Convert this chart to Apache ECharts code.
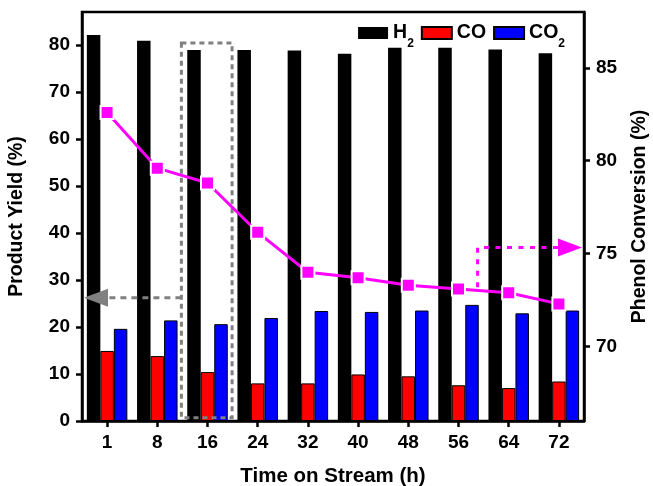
<!DOCTYPE html>
<html>
<head>
<meta charset="utf-8">
<script src="https://cdn.jsdelivr.net/npm/echarts@6/dist/echarts.min.js"></script>
<style>html,body{margin:0;padding:0;background:#fff}#c{width:653px;height:486px}</style>
</head>
<body>
<div id="c"></div>
<script>
const categories = ['1', '8', '16', '24', '32', '40', '48', '56', '64', '72'];
const h2Yield = [82.1, 80.9, 78.9, 78.9, 78.8, 78.1, 79.4, 79.4, 79.0, 78.2];
const coYield = [14.9, 13.8, 10.4, 8.0, 8.0, 9.9, 9.5, 7.6, 7.0, 8.4];
const co2Yield = [19.6, 21.4, 20.6, 21.9, 23.4, 23.2, 23.5, 24.7, 22.9, 23.5];
const phenolConversion = [82.6, 79.6, 78.8, 76.15, 74.0, 73.7, 73.3, 73.1, 72.9, 72.3];
const leftTicks = [0, 10, 20, 30, 40, 50, 60, 70, 80];
const rightTicks = [70, 75, 80, 85];

const FONT = 'Liberation Sans';
const chart = echarts.init(document.getElementById('c'), null, {renderer: 'canvas'});

const axisCommon = {
  axisLine: {show: true, lineStyle: {color: '#000', width: 2.5}},
  axisTick: {show: true, inside: false, length: 6, lineStyle: {color: '#000', width: 2.5}},
  splitLine: {show: false},
  nameTextStyle: {color: '#000', fontFamily: FONT, fontWeight: 'bold', fontSize: 19.5},
  axisLabel: {color: '#000', fontFamily: FONT, fontWeight: 'bold', fontSize: 19, margin: 12}
};

const legendRich = {
  b: {fontFamily: FONT, fontWeight: 'bold', fontSize: 19.5, color: '#000', lineHeight: 22},
  s: {fontFamily: FONT, fontWeight: 'bold', fontSize: 12, color: '#000', verticalAlign: 'bottom', lineHeight: 12, padding: [0, 0, -6, 0]}
};

chart.setOption({
  animation: false,
  backgroundColor: '#fff',
  grid: {left: 82, right: 69, top: 12, bottom: 65, show: true, borderColor: '#000', borderWidth: 2.5,
         backgroundColor: 'transparent', containLabel: false, outerBoundsMode: 'none'},
  legend: {
    right: 83, top: 18, itemWidth: 30, itemHeight: 12, itemGap: 7,
    icon: 'rect',
    data: ['H2', 'CO', 'CO2'],
    formatter: function (n) {
      if (n === 'H2') return '{b|H}{s|2}';
      if (n === 'CO2') return '{b|CO}{s|2}';
      return '{b|' + n + '}';
    },
    textStyle: {rich: legendRich}
  },
  xAxis: Object.assign({}, axisCommon, {
    type: 'category', data: categories, boundaryGap: true,
    name: 'Time on Stream (h)', nameLocation: 'middle', nameGap: 45,
    nameTextStyle: {color: '#000', fontFamily: FONT, fontWeight: 'bold', fontSize: 20.5},
    axisTick: {show: true, alignWithLabel: true, length: 6, lineStyle: {color: '#000', width: 2.5}}
  }),
  yAxis: [
    Object.assign({}, axisCommon, {
      type: 'value', min: 0, max: 87, position: 'left',
      name: 'Product Yield (%)', nameLocation: 'middle', nameGap: 55, nameRotate: 90,
      axisLabel: Object.assign({}, axisCommon.axisLabel, {customValues: leftTicks}),
      axisTick: Object.assign({}, axisCommon.axisTick, {customValues: leftTicks})
    }),
    Object.assign({}, axisCommon, {
      type: 'value', min: 66, max: 88, position: 'right',
      name: 'Phenol Conversion (%)', nameLocation: 'middle', nameGap: 46, nameRotate: 90,
      axisLabel: Object.assign({}, axisCommon.axisLabel, {customValues: rightTicks}),
      axisTick: Object.assign({}, axisCommon.axisTick, {customValues: rightTicks})
    })
  ],
  series: [
    {name: 'H2', type: 'bar', data: h2Yield, barWidth: 13.5, barGap: '0%', itemStyle: {color: '#000'}},
    {name: 'CO', type: 'bar', data: coYield, barWidth: 13.5, barGap: '0%', itemStyle: {color: '#ff0000', borderColor: '#000', borderWidth: 1}},
    {name: 'CO2', type: 'bar', data: co2Yield, barWidth: 13.5, barGap: '0%', itemStyle: {color: '#0000ff', borderColor: '#000', borderWidth: 1}},
    {name: 'Phenol Conversion', type: 'line', yAxisIndex: 1, data: phenolConversion, z: 10,
     symbol: 'rect', symbolSize: 13, lineStyle: {color: '#ff00ff', width: 3},
     itemStyle: {color: '#ff00ff', borderColor: '#fff', borderWidth: 2}}
  ]
});

// annotation overlay positioned from axis coordinates
const p0 = chart.convertToPixel({xAxisIndex: 0, yAxisIndex: 0}, ['1', 0]);
const p1 = chart.convertToPixel({xAxisIndex: 0, yAxisIndex: 0}, ['8', 0]);
const step = p1[0] - p0[0];
const gridLeft = p0[0] - step / 2;
const gridRight = gridLeft + step * categories.length;
const c16 = chart.convertToPixel({xAxisIndex: 0, yAxisIndex: 0}, ['16', 80.4]);
const c16b = chart.convertToPixel({xAxisIndex: 0, yAxisIndex: 0}, ['16', 0.7]);
const boxL = c16[0] - step / 2 - 1, boxR = c16[0] + step / 2 - 0.5;
const grayY = chart.convertToPixel({yAxisIndex: 0}, 26.2);
const c56 = chart.convertToPixel({xAxisIndex: 0, yAxisIndex: 1}, ['56', 73.2]);
const magTop = chart.convertToPixel({yAxisIndex: 1}, 75.33);
const magX = c56[0] + 0.38 * step;
const gray = '#808080', mag = '#ff00ff';
chart.setOption({
  graphic: [
    {type: 'rect', z: 5, shape: {x: boxL, y: c16[1], width: boxR - boxL, height: c16b[1] - c16[1]},
     style: {fill: null, stroke: gray, lineWidth: 3, lineDash: [5, 4]}},
    {type: 'line', z: 5, shape: {x1: boxL, y1: grayY, x2: gridLeft + 26, y2: grayY},
     style: {stroke: gray, lineWidth: 3, lineDash: [6, 5]}},
    {type: 'polygon', z: 5, shape: {points: [[gridLeft + 2, grayY], [gridLeft + 26, grayY - 9], [gridLeft + 26, grayY + 9]]},
     style: {fill: gray}},
    {type: 'polyline', z: 5, shape: {points: [[magX, c56[1]], [magX, magTop], [gridRight - 26, magTop]]},
     style: {stroke: mag, lineWidth: 3, lineDash: [5, 6.5], fill: null}},
    {type: 'polygon', z: 5, shape: {points: [[gridRight - 2, magTop], [gridRight - 26, magTop - 9], [gridRight - 26, magTop + 9]]},
     style: {fill: mag}}
  ]
});
</script>
</body>
</html>
